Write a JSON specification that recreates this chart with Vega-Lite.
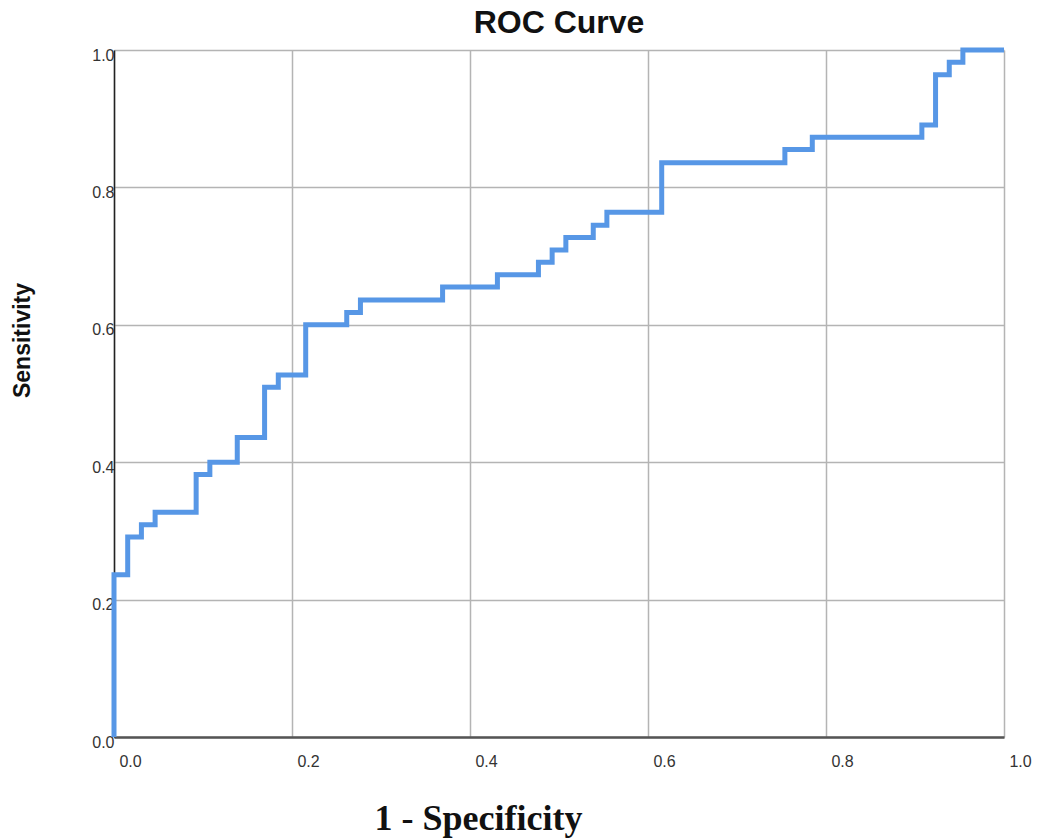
{
  "$schema": "https://vega.github.io/schema/vega-lite/v6.json",
  "autosize": "none",
  "width": 890,
  "height": 687,
  "padding": {"left": 114, "top": 50, "right": 35, "bottom": 102},
  "background": "white",
  "title": {"text": "ROC Curve", "fontSize": 32, "font": "Liberation Sans", "fontWeight": "bold", "color": "#111", "anchor": "middle", "offset": 0},
  "data": {"values": [
    {"o": 0, "fpr": 0.0, "tpr": 0.0},
    {"o": 1, "fpr": 0.0, "tpr": 0.236},
    {"o": 2, "fpr": 0.0154, "tpr": 0.236},
    {"o": 3, "fpr": 0.0154, "tpr": 0.291},
    {"o": 4, "fpr": 0.0308, "tpr": 0.291},
    {"o": 5, "fpr": 0.0308, "tpr": 0.309},
    {"o": 6, "fpr": 0.0462, "tpr": 0.309},
    {"o": 7, "fpr": 0.0462, "tpr": 0.327},
    {"o": 8, "fpr": 0.0923, "tpr": 0.327},
    {"o": 9, "fpr": 0.0923, "tpr": 0.382},
    {"o": 10, "fpr": 0.1077, "tpr": 0.382},
    {"o": 11, "fpr": 0.1077, "tpr": 0.400},
    {"o": 12, "fpr": 0.1385, "tpr": 0.400},
    {"o": 13, "fpr": 0.1385, "tpr": 0.436},
    {"o": 14, "fpr": 0.1692, "tpr": 0.436},
    {"o": 15, "fpr": 0.1692, "tpr": 0.509},
    {"o": 16, "fpr": 0.1846, "tpr": 0.509},
    {"o": 17, "fpr": 0.1846, "tpr": 0.527},
    {"o": 18, "fpr": 0.2154, "tpr": 0.527},
    {"o": 19, "fpr": 0.2154, "tpr": 0.600},
    {"o": 20, "fpr": 0.2615, "tpr": 0.600},
    {"o": 21, "fpr": 0.2615, "tpr": 0.618},
    {"o": 22, "fpr": 0.2769, "tpr": 0.618},
    {"o": 23, "fpr": 0.2769, "tpr": 0.636},
    {"o": 24, "fpr": 0.3692, "tpr": 0.636},
    {"o": 25, "fpr": 0.3692, "tpr": 0.655},
    {"o": 26, "fpr": 0.4308, "tpr": 0.655},
    {"o": 27, "fpr": 0.4308, "tpr": 0.673},
    {"o": 28, "fpr": 0.4769, "tpr": 0.673},
    {"o": 29, "fpr": 0.4769, "tpr": 0.691},
    {"o": 30, "fpr": 0.4923, "tpr": 0.691},
    {"o": 31, "fpr": 0.4923, "tpr": 0.709},
    {"o": 32, "fpr": 0.5077, "tpr": 0.709},
    {"o": 33, "fpr": 0.5077, "tpr": 0.727},
    {"o": 34, "fpr": 0.5385, "tpr": 0.727},
    {"o": 35, "fpr": 0.5385, "tpr": 0.745},
    {"o": 36, "fpr": 0.5538, "tpr": 0.745},
    {"o": 37, "fpr": 0.5538, "tpr": 0.764},
    {"o": 38, "fpr": 0.6154, "tpr": 0.764},
    {"o": 39, "fpr": 0.6154, "tpr": 0.836},
    {"o": 40, "fpr": 0.7538, "tpr": 0.836},
    {"o": 41, "fpr": 0.7538, "tpr": 0.855},
    {"o": 42, "fpr": 0.7846, "tpr": 0.855},
    {"o": 43, "fpr": 0.7846, "tpr": 0.873},
    {"o": 44, "fpr": 0.9077, "tpr": 0.873},
    {"o": 45, "fpr": 0.9077, "tpr": 0.891},
    {"o": 46, "fpr": 0.9231, "tpr": 0.891},
    {"o": 47, "fpr": 0.9231, "tpr": 0.964},
    {"o": 48, "fpr": 0.9385, "tpr": 0.964},
    {"o": 49, "fpr": 0.9385, "tpr": 0.982},
    {"o": 50, "fpr": 0.9538, "tpr": 0.982},
    {"o": 51, "fpr": 0.9538, "tpr": 1.0},
    {"o": 52, "fpr": 1.0, "tpr": 1.0}
  ]},
  "mark": {"type": "line", "color": "#5797E6", "strokeWidth": 5, "strokeJoin": "miter", "strokeCap": "butt", "clip": false},
  "encoding": {
    "order": {"field": "o", "type": "quantitative"},
    "x": {
      "field": "fpr", "type": "quantitative",
      "scale": {"domain": [0, 1], "nice": false, "zero": false},
      "axis": {
        "title": "1 - Specificity",
        "values": [0, 0.2, 0.4, 0.6, 0.8, 1.0],
        "format": ".1f",
        "grid": true, "gridColor": "#b4b4b4", "gridWidth": 1.5,
        "ticks": false,
        "domainColor": "#555555", "domainWidth": 2.5,
        "labelFont": "Liberation Sans", "labelFontSize": 16, "labelColor": "#333",
        "labelAlign": "center", "labelOffset": 16, "labelPadding": 24, "labelBaseline": "middle",
        "titleFont": "Liberation Serif", "titleFontSize": 36, "titleFontWeight": "bold", "titleColor": "#111",
        "titleX": 364, "titleY": 81, "titleAlign": "center", "titleBaseline": "middle"
      }
    },
    "y": {
      "field": "tpr", "type": "quantitative",
      "scale": {"domain": [0, 1], "nice": false, "zero": false},
      "axis": {
        "title": "Sensitivity",
        "values": [0, 0.2, 0.4, 0.6, 0.8, 1.0],
        "format": ".1f",
        "grid": true, "gridColor": "#b4b4b4", "gridWidth": 1.5,
        "ticks": false,
        "domainColor": "#222222", "domainWidth": 1.5,
        "labelFont": "Liberation Sans", "labelFontSize": 16, "labelColor": "#333",
        "labelAlign": "right", "labelPadding": 0, "labelOffset": 5, "labelBaseline": "middle",
        "titleFont": "Liberation Sans", "titleFontSize": 23, "titleFontWeight": "bold", "titleColor": "#111",
        "titleX": -92, "titleY": 290, "titleAlign": "center", "titleBaseline": "middle", "titleAngle": -90
      }
    }
  },
  "config": {"view": {"stroke": null}}
}
